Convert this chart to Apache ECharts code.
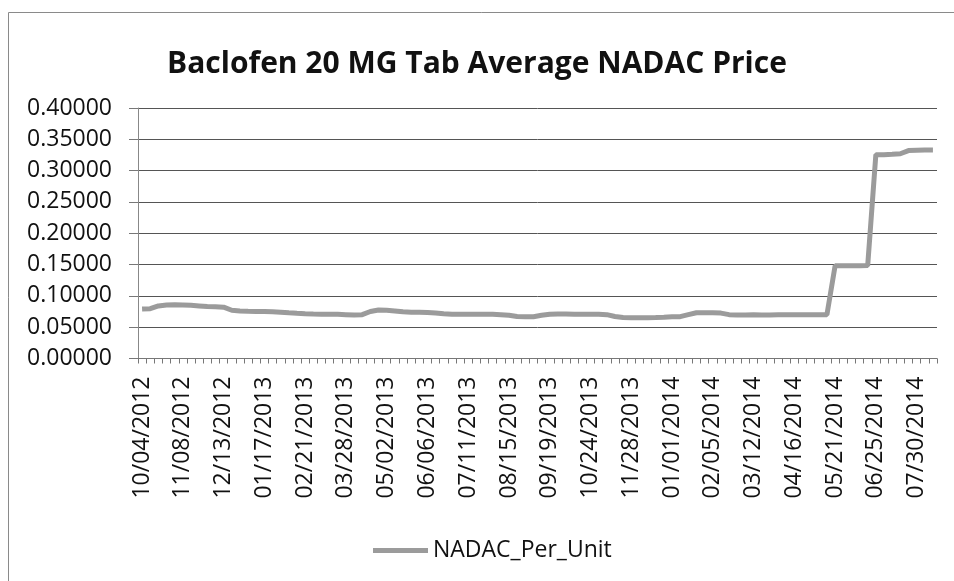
<!DOCTYPE html>
<html>
<head>
<meta charset="utf-8">
<script src="https://cdn.jsdelivr.net/npm/echarts@6/dist/echarts.min.js"></script>
<style>html,body{margin:0;padding:0;background:#fff;}#c{width:954px;height:581px;}</style>
</head>
<body>
<div id="c"></div>
<script>
const titleText = 'Baclofen 20 MG Tab Average NADAC Price';
const seriesName = 'NADAC_Per_Unit';
const dates = [
'10/04/2012','10/11/2012','10/18/2012','10/25/2012','11/01/2012','11/08/2012','11/15/2012','11/22/2012','11/29/2012','12/06/2012',
'12/13/2012','12/20/2012','12/27/2012','01/03/2013','01/10/2013','01/17/2013','01/24/2013','01/31/2013','02/07/2013','02/14/2013',
'02/21/2013','02/28/2013','03/07/2013','03/14/2013','03/21/2013','03/28/2013','04/04/2013','04/11/2013','04/18/2013','04/25/2013',
'05/02/2013','05/09/2013','05/16/2013','05/23/2013','05/30/2013','06/06/2013','06/13/2013','06/20/2013','06/27/2013','07/04/2013',
'07/11/2013','07/18/2013','07/25/2013','08/01/2013','08/08/2013','08/15/2013','08/22/2013','08/29/2013','09/05/2013','09/12/2013',
'09/19/2013','09/26/2013','10/03/2013','10/10/2013','10/17/2013','10/24/2013','10/31/2013','11/07/2013','11/14/2013','11/21/2013',
'11/28/2013','12/05/2013','12/12/2013','12/19/2013','12/26/2013','01/01/2014','01/08/2014','01/15/2014','01/22/2014','01/29/2014',
'02/05/2014','02/12/2014','02/19/2014','02/26/2014','03/05/2014','03/12/2014','03/19/2014','03/26/2014','04/02/2014','04/09/2014',
'04/16/2014','04/23/2014','04/30/2014','05/07/2014','05/14/2014','05/21/2014','05/28/2014','06/04/2014','06/11/2014','06/18/2014',
'06/25/2014','07/02/2014','07/09/2014','07/16/2014','07/23/2014','07/30/2014','08/06/2014','08/13/2014'
];
const prices = [
0.0790,0.0795,0.0840,0.0855,0.0860,0.0855,0.0850,0.0840,0.0830,0.0825,
0.0820,0.0770,0.0760,0.0755,0.0752,0.0750,0.0748,0.0740,0.0730,0.0722,
0.0715,0.0710,0.0708,0.0707,0.0705,0.0700,0.0695,0.0700,0.0750,0.0775,
0.0770,0.0760,0.0745,0.0740,0.0738,0.0735,0.0725,0.0715,0.0708,0.0706,
0.0706,0.0705,0.0706,0.0705,0.0700,0.0690,0.0670,0.0668,0.0668,0.0690,
0.0705,0.0710,0.0712,0.0708,0.0706,0.0706,0.0705,0.0700,0.0670,0.0655,
0.0652,0.0652,0.0652,0.0655,0.0660,0.0668,0.0668,0.0700,0.0730,0.0732,
0.0730,0.0725,0.0700,0.0695,0.0695,0.0697,0.0695,0.0695,0.0697,0.0698,
0.0697,0.0697,0.0697,0.0698,0.0700,0.1480,0.1480,0.1480,0.1480,0.1485,
0.3255,0.3255,0.3260,0.3270,0.3320,0.3325,0.3330,0.3330
];
const yMin = 0, yMax = 0.4, yStep = 0.05;

const font = '"Open Sans", "Noto Sans", sans-serif';
const chart = echarts.init(document.getElementById('c'), null, {renderer: 'canvas'});
chart.setOption({
  animation: false,
  backgroundColor: '#ffffff',
  title: {
    text: titleText,
    left: 'center',
    top: 44,
    textStyle: {fontFamily: font, fontWeight: 'bold', fontSize: 30, color: '#111'}
  },
  graphic: [{
    type: 'rect', left: 6, top: 10, silent: true,
    shape: {width: 1000, height: 640},
    style: {fill: 'none', stroke: '#8a8a8a', lineWidth: 1}
  }],
  legend: {
    data: [seriesName],
    left: 368,
    top: 534,
    itemWidth: 55,
    itemHeight: 5,
    itemGap: 4,
    icon: 'rect',
    textStyle: {fontFamily: font, fontSize: 23, color: '#111', padding: [0,0,0,0]}
  },
  grid: {left: 138, right: 17, top: 108, bottom: 222.5, containLabel: false},
  xAxis: {
    type: 'category',
    data: dates,
    boundaryGap: true,
    axisLine: {show: true, lineStyle: {color: '#777', width: 1}},
    axisTick: {show: true, interval: 0, length: 5, lineStyle: {color: '#777'}},
    axisLabel: {interval: 4, rotate: 90, margin: 18, fontFamily: font, fontSize: 23, color: '#111'},
    splitLine: {show: false}
  },
  yAxis: {
    type: 'value',
    min: yMin, max: yMax, interval: yStep,
    axisLine: {show: true, lineStyle: {color: '#888', width: 1}},
    axisTick: {show: true, length: 9, lineStyle: {color: '#777'}},
    axisLabel: {margin: 26, fontFamily: font, fontSize: 23, color: '#111', formatter: v => v.toFixed(5)},
    splitLine: {show: true, lineStyle: {color: '#555', width: 1}}
  },
  series: [{
    name: seriesName,
    type: 'line',
    data: prices,
    showSymbol: false,
    symbol: 'none',
    smooth: false,
    lineStyle: {color: '#9b9b9b', width: 5},
    itemStyle: {color: '#9b9b9b'}
  }]
});
</script>
</body>
</html>
